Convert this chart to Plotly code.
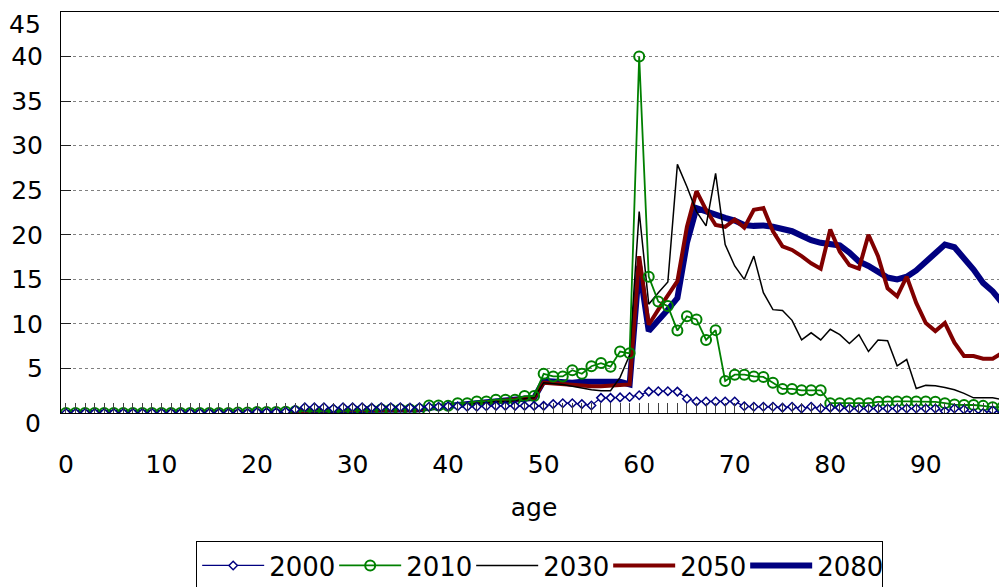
import plotly.graph_objects as go

ages = list(range(100))

v2000 = [0.0]*20 + [0.1, 0.1, 0.1, 0.15, 0.4,
         0.65, 0.65, 0.65, 0.5, 0.65, 0.65, 0.65, 0.6, 0.65, 0.65, 0.65, 0.6, 0.65,
         0.7, 0.7, 0.75, 0.75, 0.7, 0.7, 0.75, 0.8, 0.8, 0.8, 0.8, 0.8,
         0.8, 1.0, 1.1, 1.1, 1.0, 0.85, 1.7, 1.7, 1.75, 1.8,
         2.0, 2.4, 2.45, 2.45, 2.4, 1.6, 1.3, 1.3, 1.3, 1.3,
         1.3, 0.75, 0.7, 0.7, 0.7, 0.6, 0.7, 0.5, 0.7, 0.5,
         0.6, 0.6, 0.5, 0.5, 0.5, 0.5, 0.5, 0.5, 0.5, 0.5,
         0.5, 0.5, 0.2, 0.5, 0.4, 0.0, 0.0, 0.3, 0.0, 0.1]

v2010 = [0.0]*18 + [0.05, 0.05, 0.1, 0.1, 0.1, 0.15,
         0.2, 0.2, 0.2, 0.2, 0.2, 0.25, 0.3, 0.3, 0.3, 0.4, 0.4, 0.4, 0.4, 0.4,
         0.85, 0.85, 0.8, 1.1, 1.1, 1.3, 1.3, 1.5, 1.5, 1.5, 1.9, 1.9,
         4.4, 4.1, 4.1, 4.8, 4.4, 5.25, 5.6, 5.2, 6.9, 6.7,
         40.0, 15.3, 12.5, 12.0, 9.25, 10.85, 10.5, 8.2, 9.3, 3.6,
         4.3, 4.3, 4.1, 4.05, 3.4, 2.7, 2.7, 2.55, 2.55, 2.55,
         1.1, 1.1, 1.1, 1.1, 1.1, 1.25, 1.3, 1.3, 1.3, 1.3,
         1.3, 1.25, 1.1, 0.95, 0.9, 0.9, 0.8, 0.65, 0.65, 0.6]

v2030 = [0.0]*20 + [0.05, 0.05, 0.05, 0.05,
         0.2, 0.3, 0.3, 0.3, 0.3, 0.3, 0.3, 0.3, 0.3, 0.4, 0.4, 0.4, 0.4, 0.4,
         0.6, 0.7, 0.8, 0.9, 1.0, 1.1, 1.2, 1.3, 1.3, 1.4, 1.6, 1.7,
         3.4, 3.3, 3.2, 3.0, 2.8, 2.6, 2.5, 2.5, 4.0, 6.5,
         22.6, 12.2, 13.5, 14.7, 27.9, 25.4, 22.6, 21.0, 26.9, 18.9,
         16.5, 15.0, 17.6, 13.5, 11.6, 11.5, 10.4, 8.2, 9.0, 8.2,
         9.4, 8.8, 7.8, 8.8, 6.9, 8.2, 8.1, 5.3, 6.0, 2.75,
         3.1, 3.05, 2.85, 2.6, 2.2, 1.7, 1.7, 1.7, 1.5, 1.5]

v2050 = [0.0]*20 + [0.05, 0.05, 0.05, 0.05,
         0.2, 0.3, 0.3, 0.3, 0.3, 0.3, 0.3, 0.3, 0.3, 0.4, 0.4, 0.4, 0.4, 0.4,
         0.6, 0.7, 0.8, 0.9, 1.0, 1.1, 1.2, 1.3, 1.3, 1.4, 1.6, 1.7,
         3.4, 3.3, 3.2, 3.1, 3.0, 3.0, 3.0, 3.1, 3.2, 3.2,
         17.6, 9.9, 11.6, 13.3, 14.8, 20.9, 24.9, 22.8, 21.1, 20.9,
         21.7, 20.8, 22.8, 23.0, 20.4, 18.7, 18.3, 17.6, 16.8, 16.2,
         20.6, 18.1, 16.6, 16.2, 20.0, 17.6, 14.0, 13.1, 15.3, 12.35,
         10.1, 9.2, 10.1, 7.9, 6.4, 6.4, 6.1, 6.1, 6.75, 6.3]

v2080 = [0.0]*20 + [0.05, 0.05, 0.05, 0.05,
         0.2, 0.3, 0.3, 0.3, 0.3, 0.3, 0.3, 0.3, 0.3, 0.4, 0.4, 0.4, 0.4, 0.4,
         0.6, 0.7, 0.8, 0.9, 1.0, 1.1, 1.2, 1.3, 1.3, 1.4, 1.6, 1.7,
         3.6, 3.5, 3.5, 3.4, 3.5, 3.5, 3.5, 3.5, 3.5, 3.2,
         16.5, 9.2, 10.3, 11.6, 12.9, 19.1, 23.0, 22.6, 22.25, 21.9,
         21.6, 21.1, 21.0, 21.05, 20.9, 20.6, 20.4, 19.9, 19.4, 19.1,
         18.9, 18.8, 18.0, 17.0, 16.5, 15.9, 15.2, 15.0, 15.3, 16.0,
         17.0, 18.0, 18.9, 18.6, 17.4, 16.1, 14.6, 13.65, 12.35, 11.9]

x_tick_labels = [str(a) if a % 10 == 0 else "" for a in ages]
y_ticks = [0, 5, 10, 15, 20, 25, 30, 35, 40, 45]
y_tick_labels = ["", "5", "10", "15", "20", "25", "30", "35", "40", ""]

FONT = "DejaVu Sans"
fig = go.Figure()

# drawn back to front; legend shown reversed to give 2000..2080
fig.add_trace(go.Scatter(x=ages, y=v2080, name="2080", mode="lines",
                         line=dict(color="#000080", width=6)))
fig.add_trace(go.Scatter(x=ages, y=v2050, name="2050", mode="lines",
                         line=dict(color="#800000", width=4)))
fig.add_trace(go.Scatter(x=ages, y=v2030, name="2030", mode="lines",
                         line=dict(color="#000000", width=1.5)))
fig.add_trace(go.Scatter(x=ages, y=v2010, name="2010", mode="lines+markers",
                         line=dict(color="#008000", width=1.8),
                         marker=dict(symbol="circle-open", size=10, color="#008000",
                                     line=dict(width=2, color="#008000"))))
fig.add_trace(go.Scatter(x=ages, y=v2000, name="2000", mode="lines+markers",
                         line=dict(color="#000080", width=1.3),
                         marker=dict(symbol="diamond", size=6.5, color="white",
                                     line=dict(width=1.5, color="#000080"))))

# page body has an 8px margin, so the figure is sized to end at the window edge
fig.update_layout(
    width=999, height=579,
    margin=dict(l=53, r=0, t=4, b=174, autoexpand=False),
    paper_bgcolor="white", plot_bgcolor="white",
    font=dict(family=FONT, size=25, color="black"),
    showlegend=True,
    legend=dict(orientation="h", traceorder="reversed",
                x=0.506, xanchor="center", yref="container", y=0.0794, yanchor="top",
                bordercolor="black", borderwidth=1,
                font=dict(family=FONT, size=26),
                entrywidth=60, entrywidthmode="pixels",
                itemwidth=62, tracegroupgap=0),
    xaxis=dict(range=[-0.52, 98.5], tickmode="array", tickvals=ages, ticktext=x_tick_labels,
               ticks="inside", ticklen=10, tickcolor="#404040", tickwidth=1,
               showline=True, linecolor="black", linewidth=1, mirror=True,
               showgrid=False, zeroline=False, ticklabelstandoff=29,
               title=dict(text="age", standoff=20, font=dict(size=25))),
    yaxis=dict(range=[0, 45], tickmode="array", tickvals=y_ticks, ticktext=y_tick_labels,
               ticks="inside", ticklen=10, tickcolor="#202020", tickwidth=1,
               showline=True, linecolor="black", linewidth=1,
               showgrid=True, gridcolor="#808080", griddash="dot", gridwidth=1,
               zeroline=False, ticklabelstandoff=12),
)

fig.add_annotation(text="0", xref="paper", x=0, y=0, yref="y", xanchor="right",
                   xshift=-18, yshift=-10, showarrow=False, font=dict(size=25))
fig.add_annotation(text="45", xref="paper", x=0, y=45, yref="y", xanchor="right",
                   xshift=-18, yshift=-12, showarrow=False, font=dict(size=25))

fig.write_html("out.html")
